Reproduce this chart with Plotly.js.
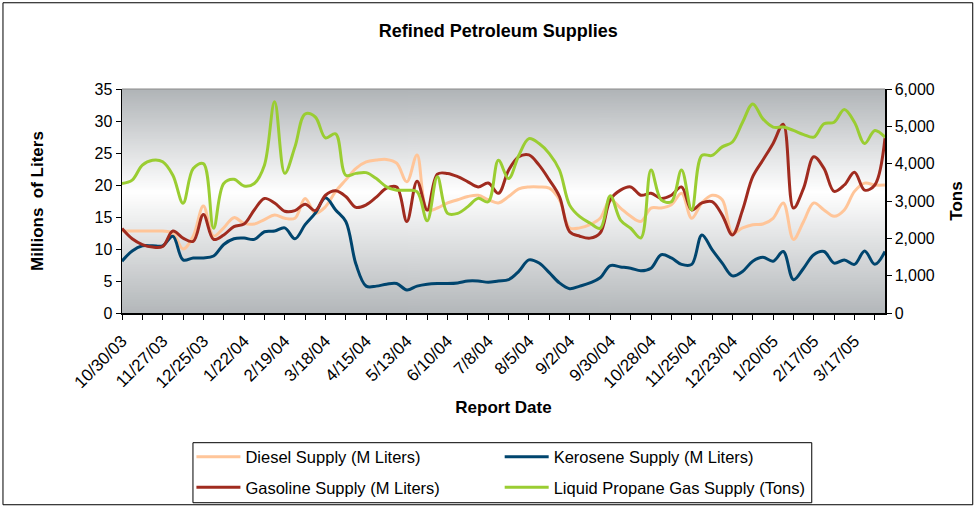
<!DOCTYPE html>
<html>
<head>
<meta charset="utf-8">
<script src="https://cdn.plot.ly/plotly-3.0.1.min.js"></script>
<style>
  html, body { margin: 0; padding: 0; background: #ffffff; }
  #chart { width: 977px; height: 507px; }
</style>
</head>
<body>
<div id="chart"></div>
<script>
// ---------- data ----------
const reportDates = [
  '2003-10-30','2003-11-06','2003-11-13','2003-11-20','2003-11-27','2003-12-04','2003-12-11','2003-12-18','2003-12-25',
  '2004-01-01','2004-01-08','2004-01-15','2004-01-22','2004-01-29','2004-02-05','2004-02-12','2004-02-19','2004-02-26',
  '2004-03-04','2004-03-11','2004-03-18','2004-03-25','2004-04-01','2004-04-08','2004-04-15','2004-04-22','2004-04-29',
  '2004-05-06','2004-05-13','2004-05-20','2004-05-27','2004-06-03','2004-06-10','2004-06-17','2004-06-24','2004-07-01',
  '2004-07-08','2004-07-15','2004-07-22','2004-07-29','2004-08-05','2004-08-12','2004-08-19','2004-08-26','2004-09-02',
  '2004-09-09','2004-09-16','2004-09-23','2004-09-30','2004-10-07','2004-10-14','2004-10-21','2004-10-28','2004-11-04',
  '2004-11-11','2004-11-18','2004-11-25','2004-12-02','2004-12-09','2004-12-16','2004-12-23','2004-12-30','2005-01-06',
  '2005-01-13','2005-01-20','2005-01-27','2005-02-03','2005-02-10','2005-02-17','2005-02-24','2005-03-03','2005-03-10',
  '2005-03-17','2005-03-24','2005-03-31','2005-04-07'
];

const dieselMLiters = [
  12.8,12.8,12.8,12.8,12.8,12.5,10.0,12.0,16.7,12.0,13.3,14.9,14.0,
  13.9,14.6,15.3,14.8,14.8,17.9,15.6,16.6,19.0,20.8,22.6,23.6,23.9,
  24.0,23.4,20.5,24.7,16.1,16.4,17.2,17.7,18.2,18.4,17.7,17.2,
  18.2,19.4,19.7,19.7,19.5,17.7,13.3,13.3,13.8,14.8,17.7,16.4,15.1,
  14.3,16.4,16.4,16.9,18.7,14.8,17.2,18.4,17.7,12.5,13.3,13.8,
  13.9,14.8,17.2,11.5,14.3,17.2,16.1,15.1,16.1,19.0,20.3,20.0,20.0
];

const keroseneMLiters = [
  8.1,9.7,10.5,10.5,10.5,12.0,8.3,8.6,8.6,8.9,10.7,11.6,11.7,
  11.5,12.7,12.8,13.3,11.6,13.8,15.6,18.0,16.1,14.3,7.6,4.2,4.2,
  4.5,4.6,3.6,4.2,4.5,4.6,4.6,4.7,5.0,5.0,4.8,5.0,
  5.2,6.5,8.3,7.8,6.3,4.7,3.8,4.2,4.7,5.5,7.4,7.2,7.0,
  6.6,7.0,9.1,8.6,7.6,7.6,12.2,9.9,7.8,5.8,6.5,8.1,
  8.7,8.1,9.6,5.2,7.0,9.1,9.6,7.8,8.3,7.6,9.7,7.6,9.6
];

const gasolineMLiters = [
  13.2,11.6,10.7,10.3,10.4,12.8,11.7,11.2,15.4,11.5,12.2,13.5,13.9,
  16.1,17.9,17.2,15.9,16.0,17.0,16.0,18.4,19.1,18.2,16.5,16.9,18.1,
  19.5,19.7,14.3,20.6,16.1,21.7,21.8,21.3,20.5,19.7,20.3,18.7,
  22.3,24.4,24.7,23.1,20.8,18.2,12.7,12.0,11.7,12.5,17.7,19.2,19.7,
  18.4,18.7,17.9,18.4,19.7,16.1,17.2,17.4,15.3,12.2,16.1,21.3,
  23.9,26.5,29.5,16.4,19.5,24.4,22.6,19.0,20.0,22.0,19.2,20.0,27.3
];

const propaneTons = [
  3470,3560,3960,4090,4050,3690,2940,3870,4000,2270,3470,3580,3400,
  3470,3960,5660,3740,4450,5330,5250,4690,4800,3690,3740,3760,3600,
  3380,3290,3290,3250,2470,3650,2670,2670,2850,3070,2980,4090,
  3600,4220,4670,4540,4270,3830,2890,2580,2410,2270,3140,2490,2270,
  2010,3830,3030,2980,3830,2760,4220,4220,4450,4580,5110,5600,
  5200,4980,4980,4890,4780,4710,5070,5110,5450,5110,4540,4890,4710
];

const seriesNames = [
  'Diesel Supply (M Liters)',
  'Kerosene Supply (M Liters)',
  'Gasoline Supply (M Liters)',
  'Liquid Propane Gas Supply (Tons)'
];
const seriesColors = ['#FFC599', '#00456E', '#A02B1F', '#9ACD32'];

// ---------- background gradient for plot area ----------
function gradientURL() {
  const c = document.createElement('canvas');
  c.width = 4; c.height = 256;
  const g = c.getContext('2d');
  const grd = g.createLinearGradient(0, 0, 0, 256);
  grd.addColorStop(0, '#b0b4b7');
  grd.addColorStop(0.46, '#ffffff');
  grd.addColorStop(1, '#b3b7ba');
  g.fillStyle = grd;
  g.fillRect(0, 0, 4, 256);
  return c.toDataURL('image/png');
}

const FONT = 'Liberation Sans, Arial, Helvetica, sans-serif';
const DAY = 86400000;

function mk(i, y, axis, legendName) {
  return {
    type: 'scatter', mode: 'lines',
    x: reportDates, y: y, name: seriesNames[i],
    yaxis: axis, legend: legendName, legendgroup: 'g' + i,
    line: { color: seriesColors[i], width: 3, shape: 'spline', smoothing: 1 },
    hoverinfo: 'x+y+name'
  };
}

const traces = [
  mk(0, dieselMLiters, 'y', 'legend'),
  mk(1, keroseneMLiters, 'y', 'legend2'),
  mk(2, gasolineMLiters, 'y', 'legend'),
  mk(3, propaneTons, 'y2', 'legend2')
];

const legendCommon = {
  orientation: 'v', xanchor: 'left', yanchor: 'top',
  bgcolor: 'rgba(0,0,0,0)', borderwidth: 0,
  font: { family: FONT, size: 16.5, color: '#000' },
  tracegroupgap: 6, itemclick: false, itemwidth: 44
};

const layout = {
  width: 977, height: 507,
  margin: { l: 122, r: 92, t: 89, b: 194, autoexpand: false },
  paper_bgcolor: '#ffffff',
  plot_bgcolor: 'rgba(0,0,0,0)',
  font: { family: FONT, size: 15, color: '#000' },
  title: {
    text: '<b>Refined Petroleum Supplies</b>',
    font: { family: FONT, size: 18, color: '#000' },
    xref: 'container', yref: 'container',
    x: 0.51, xanchor: 'center', y: 1 - 31 / 507, yanchor: 'middle'
  },
  xaxis: {
    type: 'date', automargin: false,
    range: ['2003-10-30', '2005-04-07'],
    tick0: '2003-10-30', dtick: 28 * DAY,
    tickformat: '%-m/%-d/%y', tickangle: -45,
    tickfont: { family: FONT, size: 17, color: '#000' },
    ticklabelstandoff: 5,
    ticks: 'outside', ticklen: 5, tickcolor: '#000', tickwidth: 1,
    minor: { dtick: 14 * DAY, tick0: '2003-10-30', ticks: 'outside', ticklen: 5, tickcolor: '#000', tickwidth: 1, showgrid: false },
    showline: true, linecolor: '#000', linewidth: 1.5,
    showgrid: false, zeroline: false,
    title: { text: '<b>Report Date</b>', font: { family: FONT, size: 17, color: '#000' }, standoff: 10 }
  },
  yaxis: {
    automargin: false,
    range: [0, 35], dtick: 5, tick0: 0,
    ticks: 'outside', ticklen: 5, tickcolor: '#000',
    tickfont: { family: FONT, size: 16, color: '#000' },
    showline: true, linecolor: '#000', linewidth: 1.5,
    showgrid: false, zeroline: false,
    title: { text: '<b>Millions  of Liters</b>', font: { family: FONT, size: 17, color: '#000' }, standoff: 46 }
  },
  yaxis2: {
    automargin: false,
    range: [0, 6000], dtick: 1000, tick0: 0, tickformat: ',',
    overlaying: 'y', side: 'right',
    ticks: 'outside', ticklen: 5, tickcolor: '#000',
    tickfont: { family: FONT, size: 16, color: '#000' },
    showline: true, linecolor: '#000', linewidth: 1.5,
    showgrid: false, zeroline: false,
    title: { text: '<b>Tons</b>', font: { family: FONT, size: 17, color: '#000' }, standoff: 16 }
  },
  showlegend: true,
  legend: Object.assign({}, legendCommon, { x: 0.091, y: -0.565 }),
  legend2: Object.assign({}, legendCommon, { x: 0.495, y: -0.565 }),
  images: [{
    source: gradientURL(), xref: 'paper', yref: 'paper',
    x: 0, y: 1, sizex: 1, sizey: 1, sizing: 'stretch',
    xanchor: 'left', yanchor: 'top', layer: 'below'
  }],
  shapes: [
    { type: 'line', xref: 'paper', yref: 'paper', x0: 0, x1: 1, y0: 1, y1: 1, line: { color: '#8a8a8a', width: 1 } },
    { type: 'rect', xref: 'paper', yref: 'paper', x0: 0.093, x1: 0.904, y0: -0.579, y1: -0.847, line: { color: '#000', width: 1 }, fillcolor: 'rgba(0,0,0,0)' },
    { type: 'rect', xref: 'paper', yref: 'paper', x0: -0.156, x1: 1.115, y0: 1.385, y1: -0.856, line: { color: '#000', width: 1 }, fillcolor: 'rgba(0,0,0,0)' }
  ]
};

Plotly.newPlot('chart', traces, layout, { displayModeBar: false, staticPlot: true });
</script>
</body>
</html>
